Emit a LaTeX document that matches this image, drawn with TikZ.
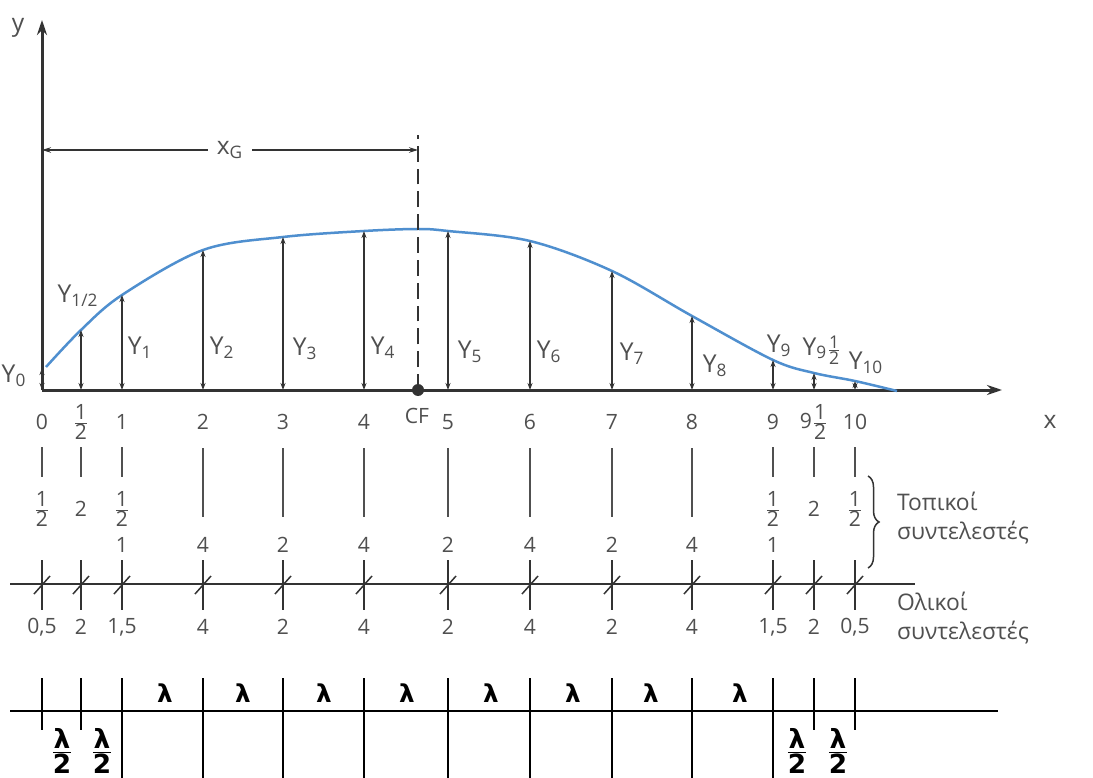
\documentclass[tikz,border=0pt]{standalone}
\usepackage{fontspec}
\setmainfont{Open Sans}
\newfontfamily\lamfont{DejaVu Sans}
\usetikzlibrary{arrows.meta,calc,decorations.pathreplacing}
\definecolor{ink}{HTML}{333333}
\definecolor{pale}{HTML}{505050}
\definecolor{hull}{HTML}{4F8FCF}
\tikzset{
  >=Stealth,
  every node/.style={font=\fontsize{12}{14}\selectfont,text=pale,inner sep=1pt},
  axis/.style={-{Stealth[length=3mm,width=2mm]},line width=0.6mm,draw=ink},
  ordinate/.style={{Stealth[length=1.4mm,width=1mm]}-{Stealth[length=1.4mm,width=1mm]},line width=0.3mm,draw=ink},
  dimline/.style={{Stealth[length=1.8mm,width=1.1mm]}-{Stealth[length=1.8mm,width=1.1mm]},line width=0.25mm,draw=ink},
  hullcurve/.style={line width=0.5mm,draw=hull},
  ylab/.style={font=\fontsize{14}{16}\selectfont},
  guide/.style={line width=0.25mm,draw=pale},
  tickline/.style={line width=0.3mm,draw=ink},
  cell/.style={line width=0.4mm,draw=black},
  lam/.style={font=\lamfont\bfseries\fontsize{14}{16}\selectfont,text=black},
  halflam/.style={font=\lamfont\bfseries\fontsize{15}{17}\selectfont,text=black},
  greek/.style={font=\fontsize{13}{16}\selectfont,align=left,anchor=west},
}
\newcommand{\hf}[1]{\ensuremath{\frac{\mbox{#1}}{\mbox{2}}}}
\newcommand{\lamhalf}{\ensuremath{\frac{\mbox{λ}}{\mbox{2}}}}

\begin{document}
\begin{tikzpicture}[x=0.2mm,y=-0.2mm]
\useasboundingbox[fill=white] (0,0) rectangle (1093,778);

% stations on the axis and ordinate tops
\foreach \n/\px in {0/42,h/81,1/122,2/203,3/283,4/364,5/448,6/530,7/612,8/692,9/773,95/814,10/855}
  \coordinate (s\n) at (\px,390);
\foreach \n/\px/\py in {0/42/368,h/81/330,1/122/295,2/203/250,3/283/237,4/364/231,5/448/231,6/530/241,7/612/271,8/692/316,9/773/360,95/814/373,10/855/381}
  \coordinate (c\n) at (\px,\py);
\coordinate (cf) at (418,390);
\coordinate (cftop) at (418,135);
\coordinate (xend) at (1002,390);
\coordinate (ytop) at (42,20);

% axes
\draw[axis] (s0) -- (xend);
\draw[axis] (s0) -- (ytop);
\node (ylabel) at (18,28) {\fontsize{14}{16}\selectfont y};
\node (xlabel) at (1050,422) {\fontsize{14}{16}\selectfont x};

% waterline curve
\draw[hullcurve] plot[smooth,tension=0.55] coordinates {(46,367) (ch) (c1) (c2) (c3) (c4) (418,229) (c5) (c6) (c7) (c8) (c9) (c95) (c10) (897,391)};

% ordinates
\foreach \n in {0,h,1,2,3,4,5,6,7,8,9,95,10}
  \draw[ordinate] (s\n) -- (c\n);

% centre of flotation
\draw[line width=0.3mm,draw=ink,dash pattern=on 9pt off 4pt] (cf) -- (cftop);
\fill[ink] (cf) circle (6);
\node (cflabel) at (417,416) {CF};
\coordinate (xga) at (42,150);
\coordinate (xgb) at (418,150);
\draw[dimline] (xga) -- node[fill=white,inner xsep=5pt,font=\fontsize{14}{16}\selectfont] (xg) {x\textsubscript{G}} (xgb);

% ordinate labels
\node[ylab] (y0) at (14,376) {Y\textsubscript{0}};
\node[ylab] (yh) at (78,296) {Y\textsubscript{1/2}};
\node[ylab] (y1) at (140,348) {Y\textsubscript{1}};
\node[ylab] (y2) at (222,348) {Y\textsubscript{2}};
\node[ylab] (y3) at (305,349) {Y\textsubscript{3}};
\node[ylab] (y4) at (383,348) {Y\textsubscript{4}};
\node[ylab] (y5) at (470,352) {Y\textsubscript{5}};
\node[ylab] (y6) at (549,352) {Y\textsubscript{6}};
\node[ylab] (y7) at (632,354) {Y\textsubscript{7}};
\node[ylab] (y8) at (715,366) {Y\textsubscript{8}};
\node[ylab] (y9) at (779,346) {Y\textsubscript{9}};
\node[ylab] (y95) at (822,350) {Y\textsubscript{9}{\fontsize{10}{11}\selectfont\hf{1}}};
\node[ylab] (y10) at (866,363) {Y\textsubscript{10}};

% station numbers
\foreach \n/\t in {0/0,h/\hf{1},1/1,2/2,3/3,4/4,5/5,6/6,7/7,8/8,9/9,95/9\hf{1},10/10}
  \node (st\n) at ($(s\n)+(0,32)$) {\t};

% guide lines
\foreach \n in {0,h,1,9,95,10}
  \draw[guide] ($(s\n)+(0,57)$) -- ($(s\n)+(0,87)$);
\foreach \n in {2,3,4,5,6,7,8}
  \draw[guide] ($(s\n)+(0,58)$) -- ($(s\n)+(0,127)$);

% local multipliers
\foreach \n/\t in {0/\hf{1},h/2,1/\hf{1},9/\hf{1},95/2,10/\hf{1}}
  \node (lm\n) at ($(s\n)+(0,119)$) {\t};
\foreach \n/\t in {1/1,2/4,3/2,4/4,5/2,6/4,7/2,8/4,9/1}
  \node (lk\n) at ($(s\n)+(0,155)$) {\t};
\draw[decorate,decoration={brace,amplitude=2.2mm},line width=0.3mm,draw=ink] (868,476) -- (868,568);
\node[greek] (local) at (895,518) {Τοπικοί\\συντελεστές};

% tick line
\coordinate (ta) at (10,584);
\coordinate (tb) at (915,584);
\draw[tickline] (ta) -- (tb);
\foreach \n in {0,h,1,2,3,4,5,6,7,8,9,95,10} {
  \draw[tickline] ($(s\n)+(0,170)$) -- ($(s\n)+(0,220)$);
  \draw[tickline] ($(s\n)+(-8,204)$) -- ($(s\n)+(8,186)$);
}

% total multipliers
\foreach \n/\t in {0/{0,5},h/2,1/{1,5},2/4,3/2,4/4,5/2,6/4,7/2,8/4,9/{1,5},95/2,10/{0,5}}
  \node (gm\n) at ($(s\n)+(0,237)$) {\t};
\node[greek] (total) at (895,618) {Ολικοί\\συντελεστές};

% spacing table
\coordinate (la) at (10,711);
\coordinate (lb) at (998,711);
\draw[cell] (la) -- (lb);
\foreach \n in {0,h,95,10}
  \draw[cell] ($(s\n)+(0,288)$) -- ($(s\n)+(0,340)$);
\foreach \n in {1,2,3,4,5,6,7,8,9}
  \draw[cell] ($(s\n)+(0,288)$) -- ($(s\n)+(0,395)$);
\foreach \px [count=\i] in {165,243,324,407,491,573,651,740}
  \node[lam] (lam\i) at (\px,693) {λ};
\foreach \px [count=\i] in {62,102,797,838}
  \node[halflam] (lh\i) at (\px,751) {\lamhalf};
\end{tikzpicture}
\end{document}
